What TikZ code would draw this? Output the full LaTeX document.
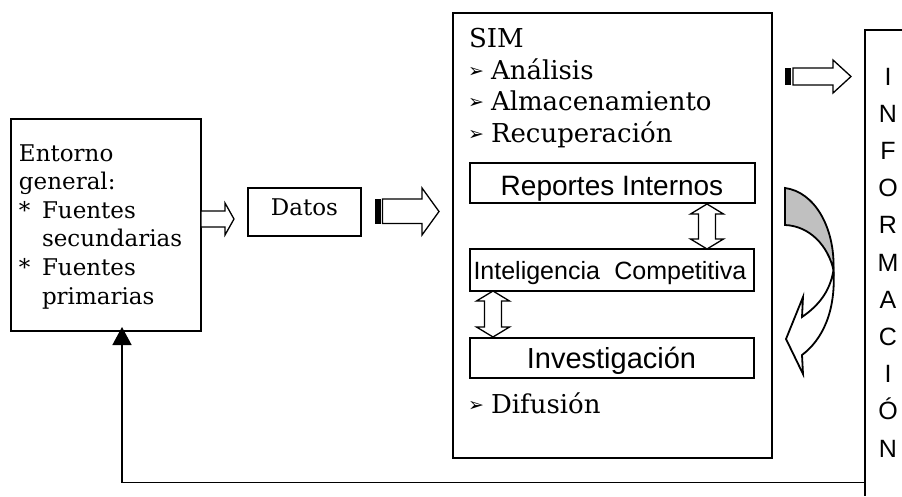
\documentclass[tikz,border=0pt]{standalone}
\usepackage{fontspec}
\setmainfont{DejaVu Serif}
\newfontfamily\sansf{Liberation Sans}
\newfontfamily\symf{DejaVu Sans}
\usetikzlibrary{arrows.meta}
\definecolor{arrowgray}{RGB}{192,192,192}
\tikzset{
  frame/.style={draw, line width=1.6pt, outer sep=0pt, inner sep=0pt},
  innerbox/.style={draw, line width=2.6pt, outer sep=0pt, inner sep=0pt},
  blockarrow/.style={draw, line width=1.3pt, fill=white, line join=miter},
  curvearrow/.style={draw, line width=1.8pt, line join=miter},
  feedline/.style={draw, line width=1.5pt},
  txt/.style={inner sep=0pt, outer sep=0pt, anchor=base west},
  ctxt/.style={inner sep=0pt, outer sep=0pt, anchor=base},
  serifA/.style={font=\fontsize{23}{27}\selectfont},
  serifB/.style={font=\fontsize{26}{30}\selectfont},
  bul/.style={inner sep=0pt, outer sep=0pt, font=\symf\fontsize{19}{19}\selectfont},
}
\newcommand{\dblarrow}[3]{% center x, top y, bottom y
  \draw[blockarrow] (#1,#2) -- (#1+16.5,#2+10) -- (#1+8.5,#2+10) -- (#1+8.5,#3-10)
    -- (#1+16.5,#3-10) -- (#1,#3) -- (#1-16.5,#3-10) -- (#1-8.5,#3-10)
    -- (#1-8.5,#2+10) -- (#1-16.5,#2+10) -- cycle;}
\begin{document}
\begin{tikzpicture}[x=1pt,y=-1pt]
\useasboundingbox (0,0) rectangle (902,496);

% ---------------- Entorno box
\node[frame, anchor=north west, minimum width=190pt, minimum height=212pt] (entorno) at (11,119) {};
\node[txt, serifA] (e1) at (19,161) {Entorno};
\node[txt, serifA] (e2) at (19,189.6) {general:};
\node[txt, serifA] (e3a) at (19,218.2) {*};
\node[txt, serifA] (e3) at (42,218.2) {Fuentes};
\node[txt, serifA] (e4) at (42,246.8) {secundarias};
\node[txt, serifA] (e5a) at (19,275.4) {*};
\node[txt, serifA] (e5) at (42,275.4) {Fuentes};
\node[txt, serifA] (e6) at (42,304) {primarias};

% ---------------- Datos box
\node[frame, anchor=north west, minimum width=113pt, minimum height=48pt] (datos) at (248,188) {};
\node[ctxt, serifA] (datostxt) at (304.5,215) {Datos};

% ---------------- SIM box
\node[frame, anchor=north west, minimum width=319pt, minimum height=445pt] (sim) at (453,13) {};
\node[txt, serifB] (simtxt) at (469,47) {SIM};
\node[bul] (b1) at (476,72) {➢};
\node[txt, serifB] (s1) at (491,79) {Análisis};
\node[bul] (b2) at (476,103.5) {➢};
\node[txt, serifB] (s2) at (491,110.5) {Almacenamiento};
\node[bul] (b3) at (476,135) {➢};
\node[txt, serifB] (s3) at (491,142) {Recuperación};
\node[bul] (b4) at (476,406) {➢};
\node[txt, serifB] (s4) at (491,413) {Difusión};

% inner boxes
\node[innerbox, anchor=north west, minimum width=285pt, minimum height=40pt] (rep) at (470,163) {};
\node[ctxt, font=\sansf\fontsize{28}{30}\selectfont] (reptxt) at (612,195.5) {Reportes Internos};
\node[innerbox, anchor=north west, minimum width=284pt, minimum height=42pt] (intel) at (470,249) {};
\node[ctxt, font=\sansf\fontsize{25}{28}\selectfont] (inteltxt) at (610,279) {Inteligencia\hspace{0.3em} Competitiva};
\node[innerbox, anchor=north west, minimum width=284pt, minimum height=40pt] (inv) at (470,338) {};
\node[ctxt, font=\sansf\fontsize{29}{31}\selectfont] (invtxt) at (611.5,368) {Investigación};

% double arrows
\dblarrow{707}{204}{249}
\dblarrow{493}{291}{337}

% ---------------- INFORMACION column
\coordinate (infoTL) at (865,30);
\draw[feedline] (902,30) -- (infoTL) -- (865,496);
\foreach \L [count=\i from 0] in {I,N,F,O,R,M,A,C,I,Ó,N}
  \node[ctxt, font=\sansf\fontsize{25}{27}\selectfont] (info\i) at (888,85+37.2*\i) {\L};

% ---------------- block arrows
% Entorno -> Datos
\draw[blockarrow] (entorno.east |- 0,211) -- (225,211) -- (225,203) -- (234,219)
  -- (225,235) -- (225,227) -- (entorno.east |- 0,227) -- cycle;
% Datos -> SIM
\fill (375,198.5) rectangle (380.5,223.5);
\draw[blockarrow] (382.5,199) -- (422,199) -- (422,188) -- (439,211.5)
  -- (422,235) -- (422,223.5) -- (382.5,223.5) -- cycle;
% SIM -> INFORMACION
\fill (785,68) rectangle (791,85);
\draw[blockarrow] (793,68) -- (833,68) -- (833,60) -- (851,76.5)
  -- (833,93) -- (833,85) -- (793,85) -- cycle;

% ---------------- curved arrow
\draw[curvearrow, fill=arrowgray] (785,188) .. controls (815,192) and (835,228) .. (833.5,270)
  .. controls (828,246) and (810,226) .. (785,225) -- cycle;
\draw[curvearrow, fill=white] (833.5,270) .. controls (836,312) and (822,340) .. (802,355)
  -- (803,374) -- (786,339) -- (803,297) -- (802,317)
  .. controls (818,306) and (830,292) .. (833.5,270) -- cycle;

% ---------------- feedback connector
\coordinate (fbR) at (infoTL |- 0,482.5);
\coordinate (fbUp) at (122,327);
\draw[feedline, -{Triangle[width=19pt,length=18pt]}] (fbR) -| (fbUp);
\end{tikzpicture}
\end{document}
